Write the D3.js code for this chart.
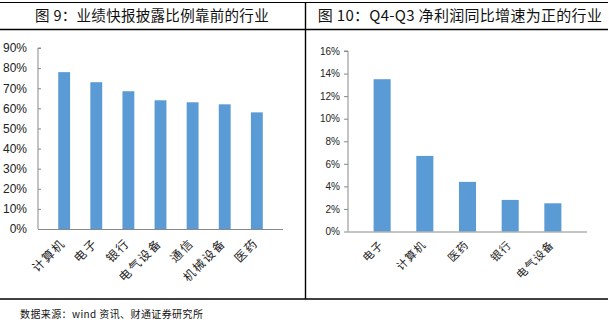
<!DOCTYPE html>
<html>
<head>
<meta charset="utf-8">
<script src="https://cdn.jsdelivr.net/npm/d3@7"></script>
<style>
  html, body { margin: 0; padding: 0; background: #fff; }
  svg { display: block; }
</style>
</head>
<body>
<svg id="chart" width="609" height="327"></svg>
<script>
// Figure 9: share of companies that have released preliminary results, by industry
const leftCategories = ["计算机", "电子", "银行", "电气设备", "通信", "机械设备", "医药"];
const leftValues = [0.78, 0.73, 0.685, 0.64, 0.63, 0.62, 0.58];
const leftTicks = [0, 0.1, 0.2, 0.3, 0.4, 0.5, 0.6, 0.7, 0.8, 0.9];

// Figure 10: industries with positive Q4-over-Q3 net profit growth
const rightCategories = ["电子", "计算机", "医药", "银行", "电气设备"];
const rightValues = [0.135, 0.067, 0.044, 0.028, 0.025];
const rightTicks = [0, 0.02, 0.04, 0.06, 0.08, 0.10, 0.12, 0.14, 0.16];

const titles = ["图 9：业绩快报披露比例靠前的行业", "图 10：Q4-Q3 净利润同比增速为正的行业"];
const sourceText = "数据来源：wind 资讯、财通证券研究所";

const svg = d3.select("#chart");
const barColor = "#5B9BD5";
const axisColor = "#898989";
const cjk = "'Noto Sans CJK SC', sans-serif";

// frame lines
svg.append("line").attr("x1", 0).attr("x2", 608).attr("y1", 2.5).attr("y2", 2.5)
  .attr("stroke", "#000").attr("stroke-width", 1);
svg.append("line").attr("x1", 0).attr("x2", 608).attr("y1", 29.5).attr("y2", 29.5)
  .attr("stroke", "#000").attr("stroke-width", 1.6);
svg.append("line").attr("x1", 0).attr("x2", 608).attr("y1", 299).attr("y2", 299)
  .attr("stroke", "#000").attr("stroke-width", 1.6);
svg.append("line").attr("x1", 305.5).attr("x2", 305.5).attr("y1", 2).attr("y2", 299)
  .attr("stroke", "#000").attr("stroke-width", 1.4);

// titles
svg.append("text").attr("x", 152).attr("y", 21).attr("text-anchor", "middle")
  .attr("font-family", cjk).attr("font-size", 14.5).attr("letter-spacing", 0.3)
  .attr("fill", "#111").text(titles[0]);
svg.append("text").attr("x", 460).attr("y", 21).attr("text-anchor", "middle")
  .attr("font-family", cjk).attr("font-size", 15).attr("letter-spacing", 0.3)
  .attr("fill", "#111").text(titles[1]);

// source note
svg.append("text").attr("x", 20).attr("y", 318)
  .attr("font-family", cjk).attr("font-size", 10).attr("letter-spacing", 0.4)
  .attr("fill", "#111").text(sourceText);

function drawPanel(opt) {
  const g = svg.append("g");
  const x = d3.scaleBand().domain(opt.categories).range([opt.x0, opt.x1]).padding(opt.padding);
  const y = d3.scaleLinear().domain([0, opt.max]).range([opt.y0, opt.y1]);

  g.selectAll("rect.bar").data(opt.values).join("rect")
    .attr("class", "bar")
    .attr("x", (d, i) => x(opt.categories[i]))
    .attr("width", x.bandwidth())
    .attr("y", d => y(d))
    .attr("height", d => y(0) - y(d))
    .attr("fill", barColor);

  const yAxis = d3.axisLeft(y).tickValues(opt.ticks)
    .tickFormat(d3.format(".0%")).tickSize(opt.tickSize).tickPadding(opt.tickPad);
  const ya = g.append("g").attr("transform", `translate(${opt.x0},0)`).call(yAxis);
  ya.select(".domain").attr("stroke", axisColor).attr("d", `M${-opt.tickSize},${opt.y1}H0V${opt.y0}`);
  ya.selectAll(".tick line").attr("stroke", axisColor);
  ya.selectAll(".tick text").attr("font-family", "'Liberation Sans', Arial, sans-serif")
    .attr("font-size", opt.tickFont).attr("fill", "#222");

  // category baseline
  g.append("line").attr("x1", opt.x0).attr("x2", opt.x1)
    .attr("y1", opt.y0 + 0.5).attr("y2", opt.y0 + 0.5).attr("stroke", axisColor);

  g.selectAll("text.cat").data(opt.categories).join("text")
    .attr("class", "cat")
    .attr("transform", d => `translate(${x(d) + x.bandwidth() / 2 + opt.labelDx},${opt.y0 + opt.labelDy}) rotate(-45)`)
    .attr("text-anchor", "end")
    .attr("font-family", cjk).attr("font-size", opt.catFont)
    .attr("letter-spacing", opt.catSpacing).attr("fill", "#222")
    .text(d => d);
}

drawPanel({
  categories: leftCategories, values: leftValues, ticks: leftTicks, max: 0.9,
  x0: 38, x1: 283, y0: 229, y1: 48, padding: 0.63,
  tickSize: -3, tickPad: 11, tickFont: 12, catFont: 12, catSpacing: 1.6,
  labelDx: 2, labelDy: 15
});

drawPanel({
  categories: rightCategories, values: rightValues, ticks: rightTicks, max: 0.16,
  x0: 348, x1: 587, y0: 231.5, y1: 51, padding: 0.6,
  tickSize: 4, tickPad: 4, tickFont: 10, catFont: 11, catSpacing: 1,
  labelDx: 2, labelDy: 14
});
</script>
</body>
</html>
